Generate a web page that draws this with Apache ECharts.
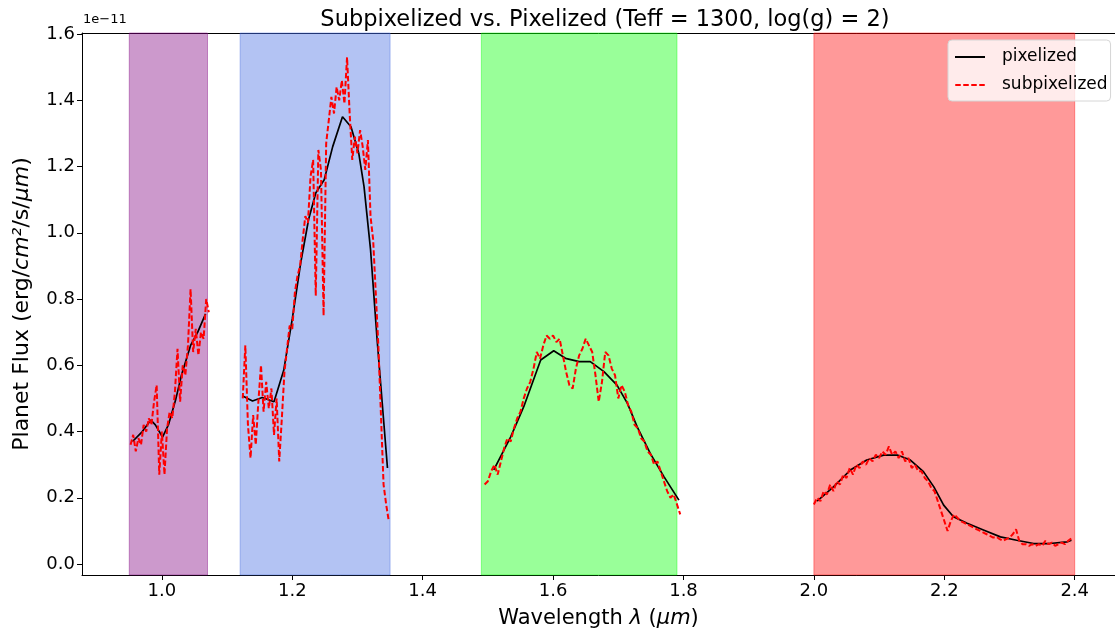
<!DOCTYPE html>
<html>
<head>
<meta charset="utf-8">
<script src="https://cdn.jsdelivr.net/npm/echarts@6/dist/echarts.min.js"></script>
<style>
html,body{margin:0;padding:0;background:#fff;}
#chart{width:1115px;height:633px;}
</style>
</head>
<body>
<div id="chart"></div>
<script>
// Band spans (wavelength, micron)
const bandSpans = [[0.95, 1.07], [1.12, 1.35], [1.49, 1.79], [2.00, 2.40]];
const bandColors = ['rgba(128,0,128,0.4)', 'rgba(65,105,225,0.4)', 'rgba(0,255,0,0.4)', 'rgba(255,0,0,0.4)'];

const xTicks = [1.0, 1.2, 1.4, 1.6, 1.8, 2.0, 2.2, 2.4];
const yTicks = [0.0, 0.2, 0.4, 0.6, 0.8, 1.0, 1.2, 1.4, 1.6];

// Pixelized (black) lines, flux in units of 1e-11
const pixJ = [[0.955,0.37],[0.97,0.40],[0.983,0.435],[0.99,0.42],[1.001,0.383],[1.01,0.42],[1.021,0.495],[1.03,0.57],[1.044,0.66],[1.055,0.70],[1.067,0.755]];
const pixH = [[1.124,0.507],[1.139,0.492],[1.154,0.503],[1.172,0.49],[1.187,0.586],[1.2,0.74],[1.213,0.91],[1.225,1.04],[1.236,1.12],[1.249,1.16],[1.262,1.26],[1.277,1.35],[1.29,1.32],[1.302,1.24],[1.31,1.14],[1.32,0.95],[1.33,0.68],[1.346,0.29]];
const pixG = [[1.509,0.284],[1.535,0.384],[1.555,0.475],[1.581,0.616],[1.601,0.644],[1.619,0.621],[1.64,0.611],[1.657,0.611],[1.678,0.581],[1.698,0.54],[1.714,0.485],[1.729,0.414],[1.749,0.334],[1.77,0.264],[1.793,0.193]];
const pixK = [[2.005,0.19],[2.03,0.233],[2.056,0.284],[2.081,0.314],[2.107,0.329],[2.128,0.329],[2.148,0.314],[2.168,0.279],[2.184,0.233],[2.199,0.178],[2.214,0.143],[2.235,0.123],[2.26,0.103],[2.286,0.082],[2.311,0.072],[2.337,0.062],[2.362,0.062],[2.388,0.067],[2.395,0.072]];

// Subpixelized (red dashed) lines
const subJ_wl = [0.952,0.956,0.960,0.964,0.968,0.972,0.976,0.980,0.984,0.988,0.992,0.996,1.000,1.004,1.008,1.012,1.016,1.020,1.024,1.028,1.032,1.036,1.040,1.044,1.048,1.052,1.056,1.060,1.064,1.068,1.072];
const subJ_fx = [0.36,0.39,0.34,0.38,0.36,0.42,0.40,0.44,0.42,0.49,0.54,0.27,0.40,0.27,0.41,0.46,0.44,0.52,0.65,0.49,0.60,0.57,0.66,0.83,0.64,0.71,0.63,0.70,0.68,0.80,0.76];

const subH_wl = [1.124,1.128,1.132,1.136,1.140,1.144,1.148,1.152,1.156,1.160,1.164,1.168,1.172,1.176,1.180,1.184,1.188,1.192,1.196,1.200,1.204,1.208,1.212,1.216,1.220,1.224,1.228,1.232,1.236,1.240,1.244,1.248,1.252,1.256,1.260,1.264,1.268,1.272,1.276,1.280,1.284,1.288,1.292,1.296,1.300,1.304,1.308,1.312,1.316,1.320,1.324,1.328,1.332,1.336,1.340,1.344,1.348];
const subH_fx = [0.50,0.66,0.42,0.32,0.45,0.36,0.49,0.60,0.46,0.55,0.47,0.53,0.39,0.50,0.31,0.44,0.58,0.65,0.72,0.71,0.82,0.87,0.90,0.98,1.05,1.03,1.17,1.22,0.81,1.25,1.19,0.75,1.27,1.34,1.41,1.36,1.44,1.40,1.46,1.39,1.53,1.36,1.22,1.29,1.24,1.31,1.26,1.19,1.28,1.05,0.98,0.82,0.66,0.45,0.24,0.18,0.13];

const subG_wl = [1.495,1.500,1.505,1.510,1.515,1.520,1.525,1.530,1.535,1.540,1.545,1.550,1.555,1.560,1.565,1.570,1.575,1.580,1.585,1.590,1.595,1.600,1.605,1.610,1.615,1.620,1.625,1.630,1.635,1.640,1.645,1.650,1.655,1.660,1.665,1.670,1.675,1.680,1.685,1.690,1.695,1.700,1.705,1.710,1.715,1.720,1.725,1.730,1.735,1.740,1.745,1.750,1.755,1.760,1.765,1.770,1.775,1.780,1.785,1.790,1.795];
const subG_fx = [0.24,0.25,0.28,0.30,0.27,0.31,0.35,0.38,0.37,0.41,0.44,0.46,0.50,0.53,0.55,0.59,0.64,0.62,0.66,0.69,0.68,0.69,0.67,0.68,0.63,0.58,0.54,0.53,0.59,0.63,0.65,0.68,0.66,0.64,0.57,0.49,0.55,0.64,0.63,0.59,0.57,0.50,0.54,0.52,0.48,0.46,0.42,0.41,0.38,0.37,0.34,0.33,0.30,0.31,0.28,0.25,0.22,0.20,0.21,0.18,0.15];

const subK_wl = [2.000,2.005,2.010,2.015,2.020,2.025,2.030,2.035,2.040,2.045,2.050,2.055,2.060,2.065,2.070,2.075,2.080,2.085,2.090,2.095,2.100,2.105,2.110,2.115,2.120,2.125,2.130,2.135,2.140,2.145,2.150,2.155,2.160,2.165,2.170,2.175,2.180,2.185,2.190,2.195,2.200,2.205,2.210,2.215,2.220,2.225,2.230,2.235,2.240,2.245,2.250,2.255,2.260,2.265,2.270,2.275,2.280,2.285,2.290,2.295,2.300,2.305,2.310,2.315,2.320,2.325,2.330,2.335,2.340,2.345,2.350,2.355,2.360,2.365,2.370,2.375,2.380,2.385,2.390,2.395];
const subK_fx = [0.18,0.20,0.19,0.22,0.21,0.24,0.22,0.25,0.24,0.27,0.26,0.29,0.27,0.30,0.29,0.31,0.30,0.32,0.31,0.33,0.32,0.34,0.33,0.355,0.33,0.34,0.32,0.34,0.31,0.32,0.29,0.30,0.28,0.28,0.26,0.25,0.23,0.22,0.19,0.16,0.13,0.10,0.13,0.15,0.14,0.13,0.125,0.12,0.115,0.11,0.105,0.10,0.095,0.09,0.085,0.08,0.082,0.075,0.07,0.075,0.08,0.09,0.105,0.07,0.06,0.06,0.055,0.06,0.055,0.06,0.055,0.07,0.06,0.065,0.055,0.06,0.065,0.06,0.07,0.078];

function zip(a, b) { return a.map((v, i) => [v, b[i]]); }

const FONT = 'DejaVu Sans';
const chart = echarts.init(document.getElementById('chart'), null, {renderer: 'canvas'});

const pixStyle = {color: '#000', width: 1.7, type: 'solid'};
const subStyle = {color: '#ff0000', width: 2, type: [5.5, 2.5]};

function pixSeries(data, extra) {
  return Object.assign({
    name: 'pixelized', type: 'line', data: data, symbol: 'none', showSymbol: false,
    lineStyle: pixStyle, itemStyle: {color: '#000'}, z: 3, animation: false, silent: true
  }, extra || {});
}
function subSeries(data) {
  return {
    name: 'subpixelized', type: 'line', data: data, symbol: 'none', showSymbol: false,
    lineStyle: subStyle, itemStyle: {color: '#ff0000'}, z: 4, animation: false, silent: true
  };
}

const markAreaData = bandSpans.map((s, i) => [
  {xAxis: s[0], itemStyle: {color: bandColors[i], borderColor: bandColors[i], borderWidth: 1}},
  {xAxis: s[1]}
]);

const nameRich = {
  n: {fontFamily: FONT, fontSize: 21, color: '#000'},
  i: {fontFamily: FONT, fontSize: 21, fontStyle: 'italic', color: '#000'}
};
const yNameRich = {
  n: {fontFamily: FONT, fontSize: 22, color: '#000'},
  i: {fontFamily: FONT, fontSize: 22, fontStyle: 'italic', color: '#000'}
};

const option = {
  animation: false,
  backgroundColor: '#fff',
  title: {
    text: 'Subpixelized vs. Pixelized (Teff = 1300, log(g) = 2)',
    left: 600, top: 4, textAlign: 'center',
    textStyle: {fontFamily: FONT, fontSize: 22.5, fontWeight: 'normal', color: '#000'}
  },
  grid: {left: 82, right: 0, top: 33, bottom: 58, show: false, outerBoundsMode: 'none', containLabel: false},
  legend: {
    orient: 'vertical', left: 948, top: 40,
    data: [
      {name: 'pixelized', icon: 'path://M0,0h30v2h-30z'},
      {name: 'subpixelized', icon: 'path://M0,0h5.5v2h-5.5z M8,0h5.5v2h-5.5z M16,0h5.5v2h-5.5z M24,0h5.5v2h-5.5z'}
    ],
    backgroundColor: 'rgba(255,255,255,0.8)', borderColor: '#d6d6d6', borderWidth: 1, borderRadius: 4,
    padding: [7, 3, 6, 7], itemWidth: 30, itemHeight: 2, itemGap: 8,
    textStyle: {fontFamily: FONT, fontSize: 17, color: '#000', padding: [0, 0, 0, 12], lineHeight: 20}
  },
  xAxis: [{
    type: 'value', min: 0.8775, max: 2.4618, position: 'bottom',
    name: '{n|Wavelength }{i|λ}{n| (}{i|μm}{n|)}', nameLocation: 'middle', nameGap: 33,
    nameTextStyle: {fontFamily: FONT, fontSize: 21, color: '#000', rich: nameRich},
    axisLine: {show: true, onZero: false, lineStyle: {color: '#000', width: 1}},
    axisTick: {show: true, length: 5, inside: false, lineStyle: {color: '#000'}, customValues: xTicks},
    axisLabel: {fontFamily: FONT, fontSize: 18, color: '#000', margin: 7, customValues: xTicks,
      formatter: v => v.toFixed(1)},
    splitLine: {show: false}
  }, {
    type: 'value', min: 0.8775, max: 2.4618, position: 'top',
    axisLine: {show: true, onZero: false, lineStyle: {color: '#000', width: 1}},
    axisTick: {show: false}, axisLabel: {show: false}, splitLine: {show: false}
  }],
  yAxis: {
    type: 'value', min: -0.033, max: 1.603,
    name: '{n|Planet Flux (erg/}{i|cm²}{n|/s/}{i|μm}{n|)}', nameLocation: 'middle', nameGap: 49, nameRotate: 90,
    nameTextStyle: {fontFamily: FONT, fontSize: 22, color: '#000', rich: yNameRich},
    axisLine: {show: true, onZero: false, lineStyle: {color: '#000', width: 1}},
    axisTick: {show: true, length: 5, inside: false, lineStyle: {color: '#000'}, customValues: yTicks},
    axisLabel: {fontFamily: FONT, fontSize: 18, color: '#000', margin: 7, customValues: yTicks,
      formatter: v => v.toFixed(1)},
    splitLine: {show: false}
  },
  graphic: [{
    type: 'text', left: 83, top: 13,
    style: {text: '1e\u221211', fontFamily: FONT, fontSize: 13, fill: '#000'}
  }],
  series: [
    pixSeries(pixJ, {markArea: {silent: true, data: markAreaData, z: 1}}),
    pixSeries(pixH),
    pixSeries(pixG),
    pixSeries(pixK),
    subSeries(zip(subJ_wl, subJ_fx)),
    subSeries(zip(subH_wl, subH_fx)),
    subSeries(zip(subG_wl, subG_fx)),
    subSeries(zip(subK_wl, subK_fx))
  ]
};
chart.setOption(option);
</script>
</body>
</html>
